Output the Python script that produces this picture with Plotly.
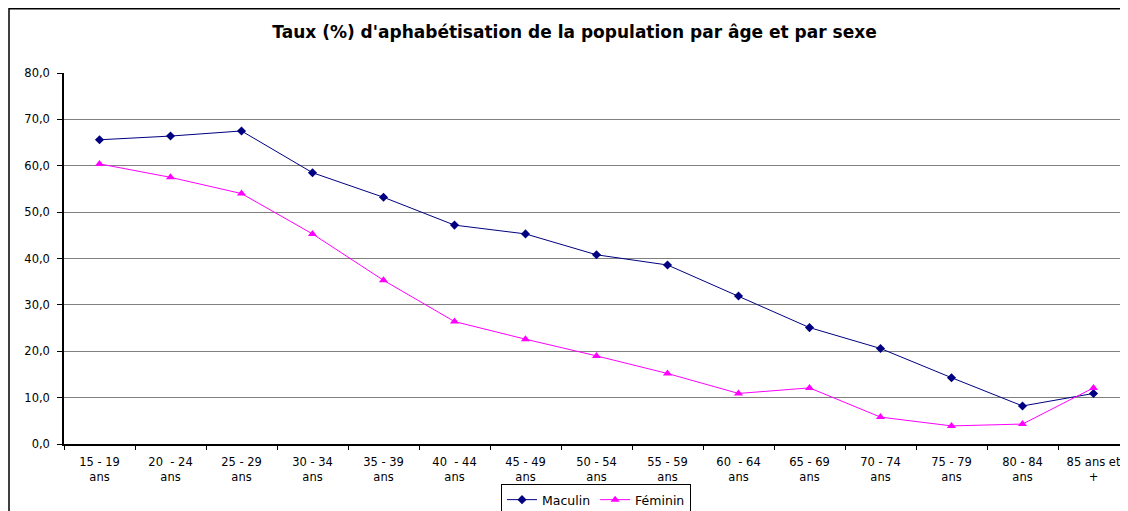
import plotly.graph_objects as go

categories = ["15 - 19<br>ans", "20  - 24<br>ans", "25 - 29<br>ans", "30 - 34<br>ans",
              "35 - 39<br>ans", "40  - 44<br>ans", "45 - 49<br>ans", "50 - 54<br>ans",
              "55 - 59<br>ans", "60  - 64<br>ans", "65 - 69<br>ans", "70 - 74<br>ans",
              "75 - 79<br>ans", "80 - 84<br>ans", "85 ans et<br>+"]
masculin = [65.6, 66.4, 67.5, 58.5, 53.2, 47.2, 45.3, 40.8, 38.6, 31.9, 25.1, 20.6, 14.3, 8.2, 10.9]
feminin = [60.4, 57.5, 54.0, 45.3, 35.3, 26.4, 22.6, 19.0, 15.2, 10.9, 12.1, 5.8, 3.9, 4.3, 12.1]
y_ticks = [0, 10, 20, 30, 40, 50, 60, 70, 80]

# page has an 8px body margin; figure occupies page x 8..1128, y 8..511
W, H = 1120, 503
L, R, T, B = 56, 0, 65, 67
pw, ph = W - L - R, H - T - B

FONT = "DejaVu Sans, Verdana, sans-serif"

fig = go.Figure()
fig.add_trace(go.Scatter(
    x=categories, y=masculin, name="Maculin", mode="lines+markers",
    line=dict(color="#000080", width=1),
    marker=dict(symbol="diamond", size=7, color="#000080")))
fig.add_trace(go.Scatter(
    x=categories, y=feminin, name="Féminin", mode="lines+markers",
    line=dict(color="#FF00FF", width=1),
    marker=dict(symbol="triangle-up", size=8, color="#FF00FF")))

spacing = 1065 / 15
xmax = -0.5 + pw / spacing

fig.update_layout(
    width=W, height=H,
    margin=dict(l=L, r=R, t=T, b=B, pad=0, autoexpand=False),
    paper_bgcolor="white", plot_bgcolor="white",
    font=dict(family=FONT, size=11, color="black"),
    separators=", ",
    title=dict(text="<b>Taux (%) d'aphabétisation de la population par âge et par sexe</b>",
               x=(566.5 - L) / pw, xref="paper", xanchor="center",
               y=1 - 24 / H, yref="container", yanchor="middle",
               font=dict(family=FONT, size=17, color="black")),
    xaxis=dict(range=[-0.5, xmax], tickson="boundaries", ticks="outside", ticklen=4,
               tickcolor="black", showline=True, linecolor="black", linewidth=1.5,
               showgrid=False, tickfont=dict(family=FONT, size=11.5), tickangle=0,
               ticklabelstandoff=6, fixedrange=True),
    yaxis=dict(range=[0, 80], tickvals=y_ticks, tickformat=".1f", ticks="outside", ticklen=5,
               tickcolor="black", showline=True, linecolor="black", linewidth=1.5,
               showgrid=True, gridcolor="#808080", gridwidth=1, zeroline=False,
               tickfont=dict(family=FONT, size=11.5), ticklabelstandoff=5,
               fixedrange=True),
    legend=dict(orientation="h", x=0.5, xanchor="center",
                yref="container", y=1 - 476 / H, yanchor="top",
                bordercolor="black", borderwidth=1, font=dict(family=FONT, size=12.5),
                bgcolor="white", itemwidth=30, tracegroupgap=0),
    showlegend=True,
    shapes=[dict(type="rect", xref="paper", yref="paper",
                 x0=(1 - L) / pw, x1=1.05, y0=-0.3, y1=(436 - 0.75) / ph,
                 line=dict(color="black", width=1.5), layer="below")],
)

fig.write_html("out.html")
